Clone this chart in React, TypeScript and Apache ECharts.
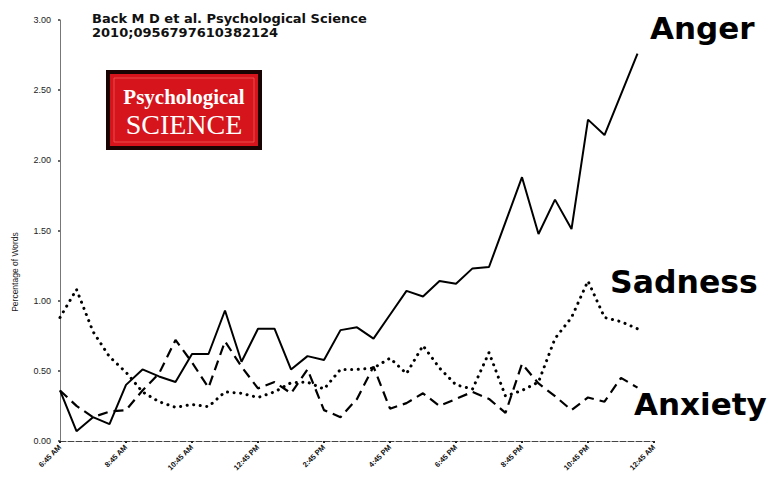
import React, { useEffect, useRef } from "react";
import * as echarts from "echarts";

const times = [
  "6:45 AM", "7:15 AM", "7:45 AM", "8:15 AM", "8:45 AM", "9:15 AM", "9:45 AM", "10:15 AM",
  "10:45 AM", "11:15 AM", "11:45 AM", "12:15 PM", "12:45 PM", "1:15 PM", "1:45 PM", "2:15 PM",
  "2:45 PM", "3:15 PM", "3:45 PM", "4:15 PM", "4:45 PM", "5:15 PM", "5:45 PM", "6:15 PM",
  "6:45 PM", "7:15 PM", "7:45 PM", "8:15 PM", "8:45 PM", "9:15 PM", "9:45 PM", "10:15 PM",
  "10:45 PM", "11:15 PM", "11:45 PM", "12:15 AM", "12:45 AM",
];

const anger = [
  0.36, 0.07, 0.17, 0.12, 0.40, 0.51, 0.46, 0.42, 0.62, 0.62, 0.93, 0.565, 0.80, 0.80, 0.51,
  0.605, 0.577, 0.79, 0.81, 0.73, 0.90, 1.07, 1.03, 1.14, 1.12, 1.23, 1.24, 1.56, 1.88, 1.475,
  1.72, 1.51, 2.29, 2.18, 2.47, 2.76,
];

const sadness = [
  0.88, 1.08, 0.78, 0.60, 0.49, 0.35, 0.28, 0.24, 0.26, 0.245, 0.35, 0.34, 0.31, 0.35, 0.415,
  0.42, 0.37, 0.51, 0.51, 0.52, 0.59, 0.48, 0.68, 0.52, 0.40, 0.37, 0.63, 0.32, 0.36, 0.42,
  0.73, 0.88, 1.14, 0.88, 0.85, 0.80,
];

const anxiety = [
  0.36, 0.25, 0.17, 0.21, 0.22, 0.36, 0.48, 0.72, 0.56, 0.38, 0.71, 0.53, 0.375, 0.42, 0.34,
  0.51, 0.22, 0.17, 0.30, 0.53, 0.23, 0.27, 0.34, 0.25, 0.30, 0.35, 0.30, 0.20, 0.55, 0.41,
  0.32, 0.22, 0.31, 0.28, 0.45, 0.38,
];

const citation = ["Back M D et al. Psychological Science", "2010;0956797610382124"];
const seriesLabels = ["Anger", "Sadness", "Anxiety"];
const yTitle = "Percentage of Words";

export default function App() {
  const ref = useRef<HTMLDivElement>(null);

  useEffect(() => {
    if (!ref.current) return;
    const chart = echarts.init(ref.current, null, { renderer: "svg" });
    chart.setOption({
      animation: false,
      backgroundColor: "#ffffff",
      grid: { left: 60, right: 117, top: 20, bottom: 45, containLabel: false, outerBoundsMode: "none" },
      xAxis: {
        type: "category",
        data: times,
        boundaryGap: false,
        axisLine: { lineStyle: { color: "#444", width: 1, type: [6, 2] } },
        axisTick: { show: true, interval: 3, length: 2, lineStyle: { color: "#222", width: 2 } },
        axisLabel: {
          interval: 3,
          rotate: 45,
          fontSize: 7.5,
          fontWeight: "bold",
          color: "#111",
          fontFamily: "Liberation Sans",
          margin: 5,
        },
        splitLine: { show: false },
      },
      yAxis: {
        type: "value",
        min: 0,
        max: 3,
        interval: 0.5,
        axisLine: { show: true, lineStyle: { color: "#777", width: 1 } },
        axisTick: { show: true, length: 2, lineStyle: { color: "#333", width: 1.5 } },
        axisLabel: {
          fontSize: 9,
          color: "#222",
          fontFamily: "Liberation Sans",
          margin: 9,
          formatter: (v: number) => v.toFixed(2),
        },
        splitLine: { show: false },
      },
      series: [
        {
          name: seriesLabels[0],
          type: "line",
          data: anger,
          symbol: "none",
          lineStyle: { color: "#000", width: 2 },
        },
        {
          name: seriesLabels[1],
          type: "line",
          data: sadness,
          symbol: "none",
          lineStyle: { color: "#000", width: 3, type: [0.1, 6.5], cap: "round" },
        },
        {
          name: seriesLabels[2],
          type: "line",
          data: anxiety,
          symbol: "none",
          lineStyle: { color: "#000", width: 2.2, type: [10, 6] },
        },
      ],
      graphic: [
        {
          type: "text",
          x: 15,
          y: 272,
          rotation: Math.PI / 2,
          style: {
            text: yTitle,
            font: "8.5px 'Liberation Sans'",
            fill: "#222",
            align: "center",
            verticalAlign: "middle",
          },
        },
        {
          type: "text",
          x: 92,
          y: 11,
          style: {
            text: citation[0] + "\n" + citation[1],
            font: "bold 13px 'DejaVu Sans'",
            lineHeight: 14,
            fill: "#111",
          },
        },
        {
          type: "rect",
          shape: { x: 108, y: 72, width: 152, height: 76 },
          style: { fill: "#d6141b", stroke: "#1a0303", lineWidth: 4 },
        },
        {
          type: "rect",
          shape: { x: 114, y: 78, width: 140, height: 64 },
          style: { fill: "none", stroke: "#f05a5a", lineWidth: 0.8 },
        },
        {
          type: "text",
          x: 184,
          y: 97,
          style: {
            text: "Psychological",
            font: "bold 21px 'Liberation Serif'",
            fill: "#ffffff",
            align: "center",
            verticalAlign: "middle",
          },
        },
        {
          type: "text",
          x: 184,
          y: 124,
          style: {
            text: "SCIENCE",
            font: "28px 'Liberation Serif'",
            fill: "#ffffff",
            align: "center",
            verticalAlign: "middle",
          },
        },
        {
          type: "text",
          x: 650,
          y: 12,
          style: { text: seriesLabels[0], font: "bold 31px 'DejaVu Sans'", fill: "#000" },
        },
        {
          type: "text",
          x: 610,
          y: 266,
          style: { text: seriesLabels[1], font: "bold 31.5px 'DejaVu Sans'", fill: "#000" },
        },
        {
          type: "text",
          x: 634,
          y: 388,
          style: { text: seriesLabels[2], font: "bold 31px 'DejaVu Sans'", fill: "#000" },
        },
      ],
    });
    return () => chart.dispose();
  }, []);

  return (
    <div
      ref={ref}
      style={{ position: "fixed", left: 0, top: 0, width: 771, height: 486, background: "#fff" }}
    />
  );
}
